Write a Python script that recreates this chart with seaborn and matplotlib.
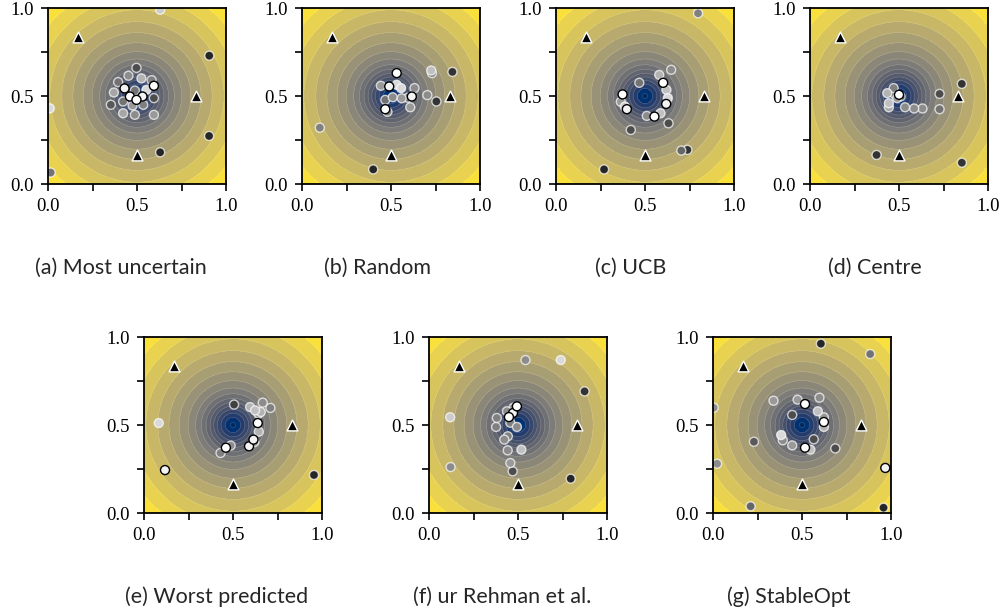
import numpy as np
import pandas as pd
import matplotlib
matplotlib.use("Agg")
import matplotlib.pyplot as plt
import seaborn as sns

# objective: distance from the optimum at the centre, with a sharp well
centre = (0.5, 0.5)
well_depth = 0.6
well_width = 0.08
n_levels = 18

# the three fixed reference points (triangles)
tri_x = [1 / 6, 5 / 6, 1 / 2]
tri_y = [5 / 6, 1 / 2, 1 / 6]

titles = ["(a) Most uncertain", "(b) Random", "(c) UCB", "(d) Centre",
          "(e) Worst predicted", "(f) ur Rehman et al.", "(g) StableOpt"]

# sampled points per strategy: x, y, grey shade (0 dark .. 1 white)
a_x = [0.63, 0.906, 0.01, 0.015, 0.905, 0.63, 0.497, 0.452, 0.525, 0.394, 0.582, 0.37, 0.43,
       0.488, 0.553, 0.595, 0.46, 0.497, 0.531, 0.595, 0.422, 0.353, 0.475, 0.535, 0.422, 0.488, 0.595]
a_y = [0.99, 0.729, 0.43, 0.065, 0.273, 0.18, 0.66, 0.615, 0.60, 0.579, 0.59, 0.52, 0.543,
       0.531, 0.535, 0.558, 0.497, 0.478, 0.497, 0.488, 0.469, 0.45, 0.446, 0.45, 0.402, 0.393, 0.393]
a_s = [0.8, 0.15, 0.85, 0.45, 0.15, 0.15, 0.3, 0.55, 0.7, 0.45, 0.5, 0.65, 0.95,
       0.45, 0.85, 1.0, 1.0, 1.0, 0.95, 0.3, 0.45, 0.35, 0.6, 0.5, 0.65, 0.55, 0.6]

b_x = [0.10, 0.40, 0.532, 0.845, 0.726, 0.73, 0.704, 0.755, 0.443, 0.49, 0.532, 0.557, 0.632,
       0.617, 0.594, 0.56, 0.51, 0.468, 0.608, 0.468, 0.48]
b_y = [0.32, 0.083, 0.63, 0.637, 0.645, 0.63, 0.505, 0.469, 0.558, 0.554, 0.564, 0.545, 0.545,
       0.497, 0.49, 0.487, 0.493, 0.478, 0.436, 0.425, 0.41]
b_s = [0.5, 0.15, 1.0, 0.2, 0.75, 0.5, 0.55, 0.2, 0.6, 0.95, 0.85, 0.85, 0.55,
       0.95, 0.45, 0.6, 0.55, 0.45, 0.6, 1.0, 0.5]

c_x = [0.798, 0.647, 0.58, 0.602, 0.468, 0.62, 0.628, 0.619, 0.374, 0.364, 0.387, 0.398,
       0.51, 0.553, 0.587, 0.632, 0.42, 0.704, 0.738, 0.27]
c_y = [0.97, 0.649, 0.62, 0.575, 0.575, 0.535, 0.488, 0.455, 0.509, 0.467, 0.44, 0.425,
       0.387, 0.383, 0.402, 0.345, 0.307, 0.19, 0.194, 0.083]
c_s = [0.5, 0.55, 0.7, 1.0, 0.45, 0.75, 0.85, 0.95, 1.0, 0.6, 0.8, 0.95,
       0.55, 1.0, 0.75, 0.3, 0.3, 0.4, 0.2, 0.15]

d_x = [0.853, 0.728, 0.728, 0.632, 0.585, 0.534, 0.443, 0.443, 0.434, 0.47, 0.475, 0.49,
       0.509, 0.5, 0.374, 0.853]
d_y = [0.569, 0.512, 0.425, 0.429, 0.429, 0.436, 0.436, 0.459, 0.516, 0.545, 0.51, 0.488,
       0.497, 0.507, 0.165, 0.121]
d_s = [0.2, 0.3, 0.45, 0.55, 0.55, 0.55, 0.65, 0.75, 0.7, 0.5, 0.45, 0.6,
       0.3, 1.0, 0.2, 0.2]

e_x = [0.506, 0.596, 0.667, 0.71, 0.624, 0.643, 0.656, 0.639, 0.645, 0.615, 0.59, 0.62,
       0.487, 0.43, 0.46, 0.083, 0.118, 0.955]
e_y = [0.616, 0.602, 0.627, 0.597, 0.583, 0.564, 0.574, 0.511, 0.462, 0.417, 0.379, 0.403,
       0.383, 0.341, 0.371, 0.511, 0.244, 0.216]
e_s = [0.25, 0.7, 0.55, 0.5, 0.75, 0.6, 0.7, 1.0, 0.7, 0.95, 0.95, 0.6,
       0.55, 0.5, 1.0, 0.85, 0.95, 0.15]

f_x = [0.542, 0.74, 0.874, 0.438, 0.475, 0.381, 0.377, 0.457, 0.494, 0.443, 0.423, 0.442,
       0.519, 0.457, 0.47, 0.119, 0.121, 0.796, 0.494, 0.472, 0.449]
f_y = [0.869, 0.869, 0.691, 0.578, 0.598, 0.54, 0.489, 0.513, 0.489, 0.436, 0.417, 0.356,
       0.36, 0.284, 0.237, 0.544, 0.261, 0.195, 0.606, 0.568, 0.545]
f_s = [0.55, 0.85, 0.2, 0.55, 0.55, 0.5, 0.5, 0.5, 0.55, 0.5, 0.55, 0.55,
       0.75, 0.6, 0.3, 0.8, 0.55, 0.15, 1.0, 0.95, 1.0]

g_x = [0.606, 0.883, 0.004, 0.34, 0.475, 0.598, 0.589, 0.445, 0.623, 0.623, 0.383, 0.392,
       0.566, 0.445, 0.547, 0.687, 0.23, 0.023, 0.968, 0.211, 0.958, 0.517, 0.623, 0.517]
g_y = [0.962, 0.903, 0.598, 0.638, 0.644, 0.655, 0.578, 0.557, 0.544, 0.489, 0.443, 0.413,
       0.419, 0.384, 0.36, 0.367, 0.405, 0.28, 0.256, 0.038, 0.03, 0.619, 0.517, 0.371]
g_s = [0.15, 0.45, 0.55, 0.6, 0.6, 0.55, 0.75, 0.3, 0.6, 0.7, 0.85, 0.55,
       0.3, 0.6, 0.75, 0.3, 0.35, 0.55, 0.95, 0.4, 0.15, 1.0, 1.0, 1.0]

panels = [(a_x, a_y, a_s), (b_x, b_y, b_s), (c_x, c_y, c_s), (d_x, d_y, d_s),
          (e_x, e_y, e_s), (f_x, f_y, f_s), (g_x, g_y, g_s)]

sns.set_theme(style="ticks")
plt.rcParams["font.family"] = ["Liberation Serif", "DejaVu Serif"]

fig = plt.figure(figsize=(10.08, 6.13), dpi=100)

w, h = 178 / 1008, 176 / 613
lefts = [48, 302, 556, 810, 144, 429, 713]
bottoms = [1 - 184 / 613] * 4 + [1 - 513 / 613] * 3
cap_x = [121, 377, 631, 875, 217, 502, 789]
cap_y = [268] * 4 + [597] * 3

gx = np.linspace(0, 1, 300)
X, Y = np.meshgrid(gx, gx)
R = np.hypot(X - centre[0], Y - centre[1])
Z = np.sqrt(R) * (1 - well_depth * np.exp(-R ** 2 / (2 * well_width ** 2)))

for i, (px, py, ps) in enumerate(panels):
    ax = fig.add_axes([lefts[i] / 1008, bottoms[i], w, h])
    ax.contourf(X, Y, Z, levels=n_levels, cmap="cividis")
    ax.contour(X, Y, Z, levels=n_levels, colors="white", linewidths=0.4, alpha=0.2)

    df = pd.DataFrame({"x": px, "y": py, "shade": ps}).sort_values("shade")
    edges = ["black" if s >= 0.9 else (1, 1, 1, 0.7) for s in df["shade"]]
    sns.scatterplot(data=df, x="x", y="y", hue="shade", palette="gray",
                    hue_norm=(0, 1), legend=False, s=42, edgecolor=edges,
                    linewidth=1.0, ax=ax, zorder=3)
    sns.scatterplot(x=tri_x, y=tri_y, marker="^", s=60, color="black",
                    edgecolor="white", linewidth=1.0, ax=ax, zorder=4)

    ax.set_xlim(0, 1)
    ax.set_ylim(0, 1)
    ax.set_xticks([0, 0.5, 1])
    ax.set_yticks([0, 0.5, 1])
    ax.set_xticks([0.25, 0.75], minor=True)
    ax.set_yticks([0.25, 0.75], minor=True)
    ax.set_xticklabels(["0.0", "0.5", "1.0"])
    ax.set_yticklabels(["0.0", "0.5", "1.0"])
    ax.tick_params(which="both", length=5, width=1.2, direction="out",
                   labelsize=13.5, colors="black", pad=5)
    ax.set_xlabel("")
    ax.set_ylabel("")
    for sp in ax.spines.values():
        sp.set_linewidth(1.3)
        sp.set_color("black")
        sp.set_visible(True)
        sp.set_zorder(5)

    fig.text(cap_x[i] / 1008, 1 - cap_y[i] / 613, titles[i], ha="center", va="center",
             fontsize=15.5, family=["Lato", "DejaVu Sans"])

fig.savefig("out.png", dpi=100)
